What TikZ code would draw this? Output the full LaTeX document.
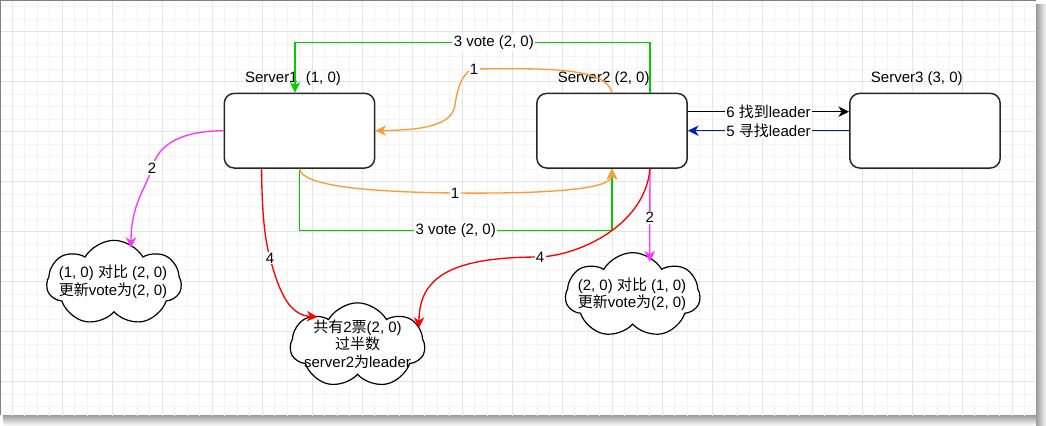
\documentclass[tikz,border=0pt]{standalone}
\usepackage{fontspec}
\setmainfont{Liberation Sans}
\newfontfamily\cjk{Noto Sans CJK SC}
\usetikzlibrary{arrows.meta,shapes.symbols,calc}
\definecolor{cgreen}{RGB}{0,204,0}
\definecolor{corange}{RGB}{255,153,51}
\definecolor{cmag}{RGB}{255,51,255}
\definecolor{cred}{RGB}{255,0,0}
\definecolor{cblue}{RGB}{0,29,188}
\definecolor{gridminor}{RGB}{244,244,244}
\definecolor{gridmajor}{RGB}{228,228,228}
\newcommand{\zh}[1]{{\cjk #1}}
\newcommand{\fsz}{\fontsize{11.25pt}{13pt}\selectfont}
\begin{document}
\begin{tikzpicture}[x=0.75pt,y=-0.75pt,
  srv/.style={draw=black!85,line width=1.1pt,rounded corners=7.5pt,fill=white,
    minimum width=112.8pt,minimum height=56pt,inner sep=0pt},
  cld/.style={cloud,draw=black,line width=0.9pt,fill=white,cloud puffs=7,cloud puff arc=120,
    cloud ignores aspect,minimum width=101pt,minimum height=64pt,inner sep=0pt},
  txt/.style={font=\fsz,align=center,inner sep=0pt,text=black},
  lbl/.style={font=\fsz,fill=white,inner sep=1pt,text=black},
  eg/.style={line width=1pt,-{Stealth[length=8pt,width=7.8pt,inset=2.4pt]}},
]
\useasboundingbox (0,0) rectangle (1046,425);
% frame shadow
\shade[left color=black!40,right color=black!3] (1036,4) rectangle (1046,425);
\shade[top color=black!40,bottom color=black!3] (3,415) rectangle (1036,425);
\fill[white] (1,1) rectangle (1036,415);
% grid
\begin{scope}
\clip (1,1) rectangle (1036,415);
\foreach \i in {0,...,83} {\draw[gridminor,line width=0.75pt] ({-0.2+12.5*\i},0) -- ({-0.2+12.5*\i},416);}
\foreach \i in {0,...,33} {\draw[gridminor,line width=0.75pt] (0,{6.7+12.5*\i}) -- (1037,{6.7+12.5*\i});}
\foreach \i in {0,...,20} {\draw[gridmajor,line width=0.75pt] ({12.3+50*\i},0) -- ({12.3+50*\i},416);}
\foreach \i in {0,...,8} {\draw[gridmajor,line width=0.75pt] (0,{31.7+50*\i}) -- (1037,{31.7+50*\i});}
\end{scope}
\draw[black!50,line width=0.75pt] (0.5,415) -- (0.5,0.5) -- (1036,0.5);

% servers
\node[srv] (s1) at (299.5,130.7) {};
\node[srv] (s2) at (612,130.7) {};
\node[srv] (s3) at (925,130.7) {};
\node[txt] (n1) at (293,79) {Server1\ \ (1, 0)};
\node[txt] (n2) at (603.7,79) {Server2 (2, 0)};
\node[txt] (n3) at (916.8,79) {Server3 (3, 0)};

% clouds
\node[cld] (c1) at (114,283) {};
\node[cld] (c2) at (357.5,345.5) {};
\node[cld] (c3) at (632.7,295.3) {};
\node[txt] (t1) at (113,281.7) {(1, 0) \zh{对比} (2, 0)\\\zh{更新}vote\zh{为}(2, 0)};
\node[txt] (t2) at (357.5,344) {\zh{共有}2\zh{票}(2, 0)\\\zh{过半数}\\server2\zh{为}leader};
\node[txt] (t3) at (632,294.5) {(2, 0) \zh{对比} (1, 0)\\\zh{更新}vote\zh{为}(2, 0)};

% green votes
\draw[eg,cgreen] ($(s2.north)!0.5!(s2.north east)$) -- ++(0,-50)
  -| node[lbl,pos=0.22] {3 vote (2, 0)} ($(s1.north)+(-4.5,0)$);
\draw[eg,cgreen] (s1.south) -- ++(0,62)
  -| node[lbl,pos=0.25] {3 vote (2, 0)} (s2.south);

% orange
\draw[eg,corange] (s2.north) .. controls (606,68) and (550,68) .. (474,69)
  .. controls (466,70) and (458,82) .. (455,105)
  .. controls (452,125) and (425,130) .. (s1.east);
\node[lbl] (o1) at (474,69) {1};
\draw[eg,corange] (s1.south) .. controls (302,185) and (360,192) .. (455,193)
  node[lbl] (o2) {1}
  .. controls (560,194) and (612,188) .. (s2.south);

% magenta
\draw[eg,cmag] (s1.west) .. controls (180,131) and (158,145) .. (152,168)
  node[lbl] (m1) {2}
  .. controls (145,190) and (131,205) .. ($(c1.center)+(17,-35)$);
\draw[eg,cmag] ($(s2.south)!0.5!(s2.south east)$) --
  node[lbl,pos=0.52] (m2) {2} ($(c3.center)+(17,-33.6)$);

% red
\draw[eg,cred] ($(s1.south)!0.5!(s1.south west)$) .. controls (262,215) and (265,240) .. (270,258)
  node[lbl] (r1) {4}
  .. controls (280,295) and (290,315) .. ($(c2.center)+(-40,-28.5)$);
\draw[eg,cred] ($(s2.south)!0.5!(s2.south east)$) .. controls (645,225) and (580,255) .. (540,257)
  node[lbl] (r2) {4}
  .. controls (455,257) and (419,275) .. ($(c2.center)+(61.5,-17.5)$);

% server2 <-> server3
\draw[eg,black] ($(s2.east)!0.5!(s2.north east)$) --
  node[lbl] {6 \zh{找到}leader} ($(s3.west)!0.5!(s3.north west)$);
\draw[eg,cblue] (s3.west) -- node[lbl] {5 \zh{寻找}leader} (s2.east);
\end{tikzpicture}
\end{document}
